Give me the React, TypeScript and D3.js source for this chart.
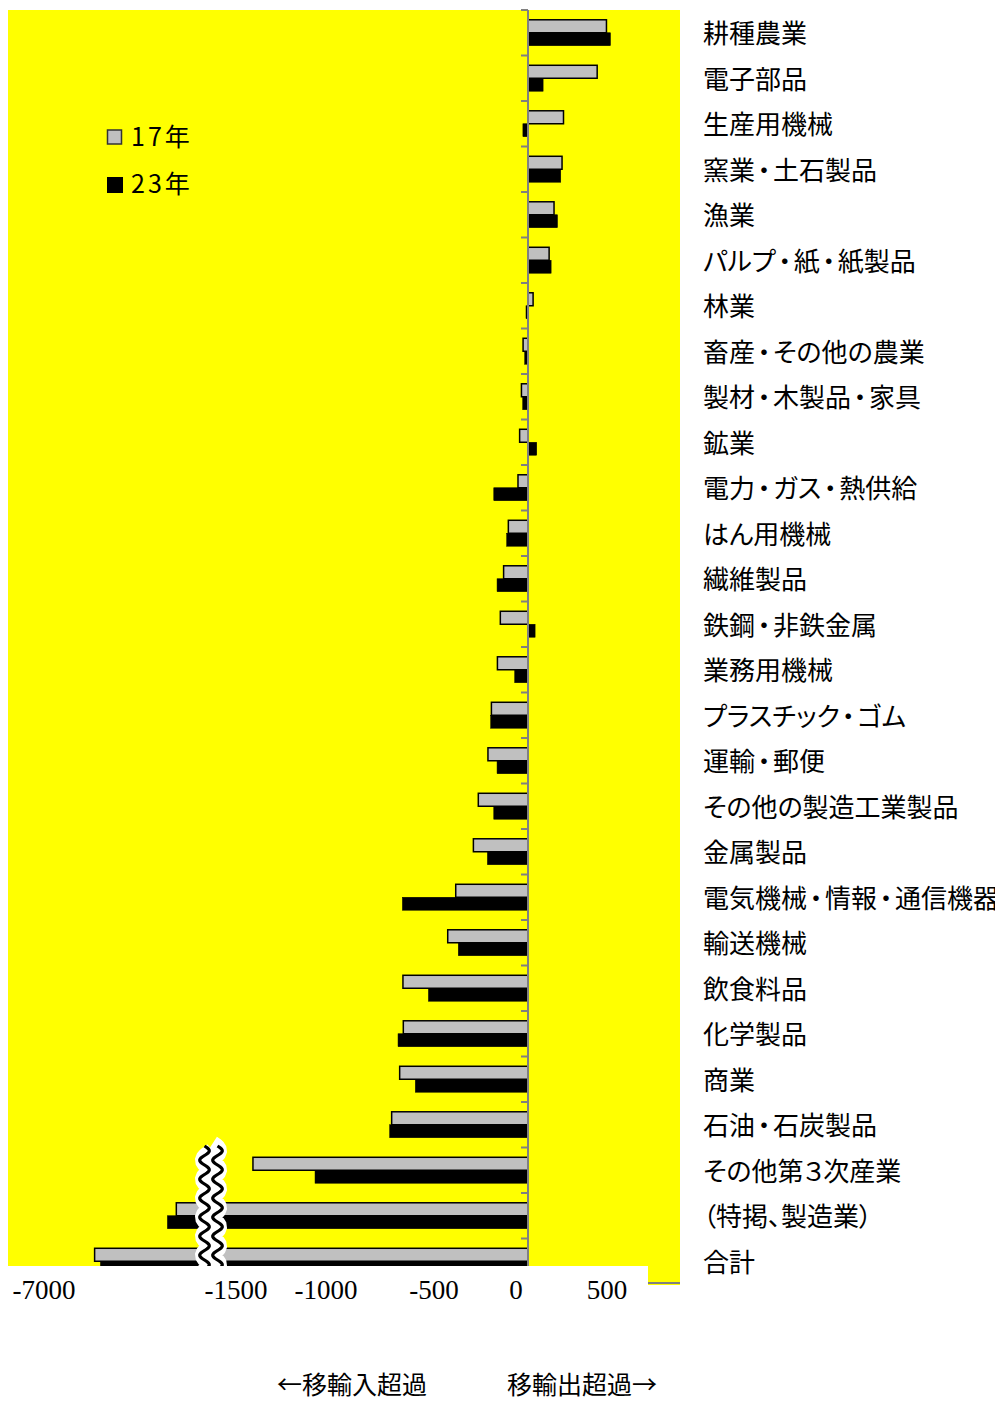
import React from "react";
import * as d3 from "d3";

const categories = [
  "耕種農業", "電子部品", "生産用機械", "窯業・土石製品", "漁業", "パルプ・紙・紙製品", "林業",
  "畜産・その他の農業", "製材・木製品・家具", "鉱業", "電力・ガス・熱供給", "はん用機械", "繊維製品",
  "鉄鋼・非鉄金属", "業務用機械", "プラスチック・ゴム", "運輸・郵便", "その他の製造工業製品", "金属製品",
  "電気機械・情報・通信機器", "輸送機械", "飲食料品", "化学製品", "商業", "石油・石炭製品",
  "その他第３次産業", "（特掲、製造業）", "合計",
];
const values17 = [431, 380, 195, 187, 143, 116, 28, -27, -36, -46, -55, -108, -134, -152, -168, -201, -220, -273, -300, -397, -441, -687, -685, -705, -749, -1511, -2854, -5414];
const values23 = [453, 83, -28, 180, 162, 127, -11, -18, -29, 48, -188, -117, -170, 39, -73, -205, -170, -188, -223, -690, -383, -547, -714, -619, -760, -1170, -3133, -5232];
const seriesNames = ["17年", "23年"];
const tickValues = [-7000, -1500, -1000, -500, 0, 500];
const breakValue = -1736;

export default function App() {
  const W = 1003, H = 1401;
  const plot = { left: 8, right: 680, top: 10, bottom: 1284 };
  const x = d3.scaleLinear().domain([-7000, breakValue, 0, 835]).range([44, 212, plot.left + 520, plot.right]);
  const y = d3.scaleBand<string>().domain(categories).range([plot.top, plot.bottom]).paddingInner(0.43).paddingOuter(0.215);
  const sub = d3.scaleBand<string>().domain(seriesNames).range([0, y.bandwidth()]);
  const x0 = x(0);
  const step = y.step();
  const boundaries = d3.range(categories.length + 1).map((i) => plot.top + i * step);
  const tickShift: Record<number, number> = { [-7000]: 0, [-1500]: -19, [-1000]: -20, [-500]: -3, 0: -12, 500: -12 };

  const series = [
    { name: seriesNames[0], values: values17, fill: "#c0c0c0", stroke: "#000", sw: 1.5 },
    { name: seriesNames[1], values: values23, fill: "#000", stroke: "#000", sw: 0.5 },
  ];

  const bx = x(breakValue) - 1;
  const waveY0 = 1146, waveY1 = 1275;
  const wave = (dx: number) => {
    const pts: [number, number][] = [];
    for (let yy = waveY0; yy <= waveY1; yy += 1) {
      pts.push([bx + dx + 4.8 * Math.sin(((yy - waveY0) / 19) * 2 * Math.PI), yy]);
    }
    return d3.line()(pts) as string;
  };

  const cjk = "'Noto Sans CJK JP', sans-serif";
  const palt = { fontFeatureSettings: '"palt"' } as React.CSSProperties;

  const renderLabel = (c: string) => {
    const parts = c.split("・");
    const out: React.ReactNode[] = [];
    parts.forEach((p, i) => {
      if (i > 0) {
        out.push(<tspan key={"d" + i} dx={2.5}>・</tspan>);
        out.push(<tspan key={"p" + i} dx={2.5}>{p}</tspan>);
      } else {
        out.push(<tspan key={"p" + i}>{p}</tspan>);
      }
    });
    return out;
  };

  return (
    <svg width={W - 8} height={H - 8} style={{ display: "block", background: "#fff" }}>
      <g transform="translate(-8,-8)">
        <rect x={plot.left} y={plot.top} width={plot.right - plot.left} height={plot.bottom - plot.top + 1} fill="#ffff00" />
        {series.map((s) =>
          categories.map((c, i) => {
            const v = s.values[i];
            const xv = x(v);
            return (
              <rect
                key={s.name + c}
                x={Math.min(x0, xv)}
                y={(y(c) as number) + (sub(s.name) as number)}
                width={Math.abs(xv - x0)}
                height={sub.bandwidth()}
                fill={s.fill}
                stroke={s.stroke}
                strokeWidth={s.sw}
              />
            );
          })
        )}
        <line x1={x0} x2={x0} y1={plot.top} y2={plot.bottom} stroke="#808080" strokeWidth={2} />
        {boundaries.map((b, i) => (
          <line key={i} x1={x0 - 7} x2={x0} y1={b} y2={b} stroke="#808080" strokeWidth={2} />
        ))}
        <line x1={plot.left} x2={plot.right} y1={plot.bottom - 1} y2={plot.bottom - 1} stroke="#808080" strokeWidth={2} />
        <path d={wave(0)} fill="none" stroke="#fff" strokeWidth={22} />
        <path d={wave(-6.5)} fill="none" stroke="#000" strokeWidth={3.2} />
        <path d={wave(6.5)} fill="none" stroke="#000" strokeWidth={3.2} />
        <rect x={0} y={1266} width={648} height={60} fill="#fff" />
        {tickValues.map((t) => (
          <text
            key={t}
            x={x(t) + (tickShift[t] ?? 0)}
            y={1299}
            textAnchor="middle"
            fontFamily="'Liberation Serif', serif"
            fontSize={27}
            fill="#000"
          >
            {t < 0 ? "-" + Math.abs(t) : String(t)}
          </text>
        ))}
        {categories.map((c) => (
          <text
            key={c}
            x={703}
            y={(y(c) as number) + y.bandwidth() / 2 - 1.5}
            dominantBaseline="central"
            fontFamily={cjk}
            fontSize={26}
            fill="#000"
            style={palt}
          >
            {renderLabel(c)}
          </text>
        ))}
        <rect x={107.5} y={130} width={14} height={14} fill="#c0c0c0" stroke="#333" strokeWidth={1.5} />
        <text x={131} y={134.5} dominantBaseline="central" fontFamily={cjk} fontSize={25} letterSpacing={3} fill="#000">{seriesNames[0]}</text>
        <rect x={107} y={177} width={16} height={16} fill="#000" />
        <text x={131} y={181.5} dominantBaseline="central" fontFamily={cjk} fontSize={25} letterSpacing={3} fill="#000">{seriesNames[1]}</text>
        <text x={277} y={1393.5} fontFamily={cjk} fontSize={25} fill="#000">←移輸入超過</text>
        <text x={507} y={1393.5} fontFamily={cjk} fontSize={25} fill="#000">移輸出超過→</text>
      </g>
    </svg>
  );
}
